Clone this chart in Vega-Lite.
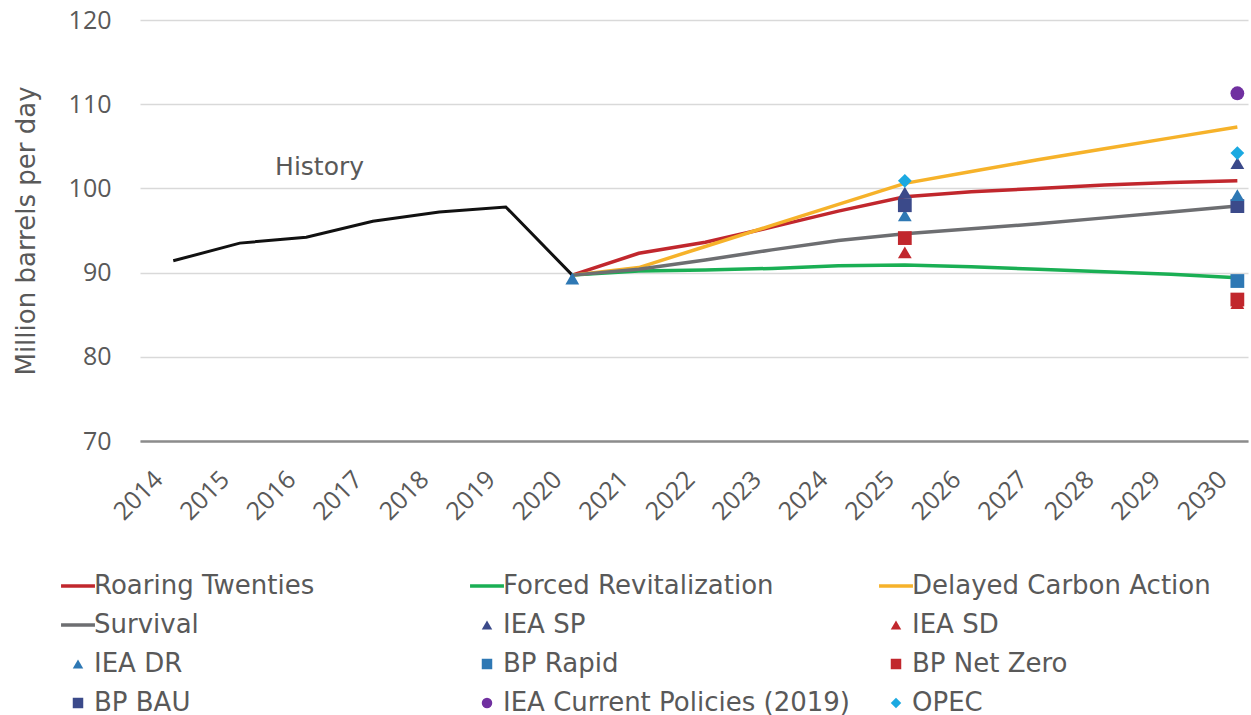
{
  "$schema": "https://vega.github.io/schema/vega-lite/v6.json",
  "width": 1108,
  "height": 421,
  "padding": {"top": 8, "left": 13, "right": 6, "bottom": 0},
  "background": "white",
  "config": {
    "view": {"stroke": null},
    "font": "Open Sans"
  },
  "datasets": {
    "history": [
      {"year": 2014, "value": 91.4},
      {"year": 2015, "value": 93.5},
      {"year": 2016, "value": 94.2},
      {"year": 2017, "value": 96.1},
      {"year": 2018, "value": 97.2},
      {"year": 2019, "value": 97.8},
      {"year": 2020, "value": 89.7}
    ],
    "scen": [
      {"series": "Roaring Twenties", "year": 2020, "value": 89.7},
      {"series": "Roaring Twenties", "year": 2021, "value": 92.3},
      {"series": "Roaring Twenties", "year": 2022, "value": 93.6},
      {"series": "Roaring Twenties", "year": 2023, "value": 95.4},
      {"series": "Roaring Twenties", "year": 2024, "value": 97.3},
      {"series": "Roaring Twenties", "year": 2025, "value": 99.0},
      {"series": "Roaring Twenties", "year": 2026, "value": 99.6},
      {"series": "Roaring Twenties", "year": 2027, "value": 100.0},
      {"series": "Roaring Twenties", "year": 2028, "value": 100.4},
      {"series": "Roaring Twenties", "year": 2029, "value": 100.7},
      {"series": "Roaring Twenties", "year": 2030, "value": 100.9},
      {"series": "Forced Revitalization", "year": 2020, "value": 89.7},
      {"series": "Forced Revitalization", "year": 2021, "value": 90.2},
      {"series": "Forced Revitalization", "year": 2022, "value": 90.3},
      {"series": "Forced Revitalization", "year": 2023, "value": 90.5},
      {"series": "Forced Revitalization", "year": 2024, "value": 90.8},
      {"series": "Forced Revitalization", "year": 2025, "value": 90.9},
      {"series": "Forced Revitalization", "year": 2026, "value": 90.7},
      {"series": "Forced Revitalization", "year": 2027, "value": 90.4},
      {"series": "Forced Revitalization", "year": 2028, "value": 90.1},
      {"series": "Forced Revitalization", "year": 2029, "value": 89.8},
      {"series": "Forced Revitalization", "year": 2030, "value": 89.4},
      {"series": "Delayed Carbon Action", "year": 2020, "value": 89.7},
      {"series": "Delayed Carbon Action", "year": 2021, "value": 90.6},
      {"series": "Delayed Carbon Action", "year": 2022, "value": 93.1},
      {"series": "Delayed Carbon Action", "year": 2023, "value": 95.6},
      {"series": "Delayed Carbon Action", "year": 2024, "value": 98.1},
      {"series": "Delayed Carbon Action", "year": 2025, "value": 100.6},
      {"series": "Delayed Carbon Action", "year": 2026, "value": 102.0},
      {"series": "Delayed Carbon Action", "year": 2027, "value": 103.4},
      {"series": "Delayed Carbon Action", "year": 2028, "value": 104.7},
      {"series": "Delayed Carbon Action", "year": 2029, "value": 106.0},
      {"series": "Delayed Carbon Action", "year": 2030, "value": 107.3},
      {"series": "Survival", "year": 2020, "value": 89.7},
      {"series": "Survival", "year": 2021, "value": 90.4},
      {"series": "Survival", "year": 2022, "value": 91.5},
      {"series": "Survival", "year": 2023, "value": 92.7},
      {"series": "Survival", "year": 2024, "value": 93.8},
      {"series": "Survival", "year": 2025, "value": 94.6},
      {"series": "Survival", "year": 2026, "value": 95.2},
      {"series": "Survival", "year": 2027, "value": 95.8},
      {"series": "Survival", "year": 2028, "value": 96.5},
      {"series": "Survival", "year": 2029, "value": 97.2},
      {"series": "Survival", "year": 2030, "value": 97.9}
    ],
    "markers": [
      {"series": "IEA DR", "year": 2020, "value": 89.3},
      {"series": "IEA SD", "year": 2025, "value": 92.4},
      {"series": "BP Net Zero", "year": 2025, "value": 94.1},
      {"series": "IEA DR", "year": 2025, "value": 96.8},
      {"series": "BP BAU", "year": 2025, "value": 98.0},
      {"series": "IEA SP", "year": 2025, "value": 99.5},
      {"series": "OPEC", "year": 2025, "value": 100.9},
      {"series": "IEA SD", "year": 2030, "value": 86.4},
      {"series": "BP Net Zero", "year": 2030, "value": 86.8},
      {"series": "BP Rapid", "year": 2030, "value": 89.0},
      {"series": "BP BAU", "year": 2030, "value": 97.9},
      {"series": "IEA DR", "year": 2030, "value": 99.2},
      {"series": "IEA SP", "year": 2030, "value": 103.0},
      {"series": "OPEC", "year": 2030, "value": 104.2},
      {"series": "IEA Current Policies (2019)", "year": 2030, "value": 111.3}
    ],
    "notes": [
      {"label": "History", "year": 2016.2, "value": 102.5}
    ]
  },
  "encoding": {
    "x": {
      "field": "year",
      "type": "quantitative",
      "scale": {"domain": [2013.5, 2030.16], "nice": false, "zero": false},
      "axis": {
        "title": null,
        "values": [2014, 2015, 2016, 2017, 2018, 2019, 2020, 2021, 2022, 2023, 2024, 2025, 2026, 2027, 2028, 2029, 2030],
        "format": "d",
        "labelAngle": -45,
        "labelAlign": "right",
        "labelBaseline": "middle",
        "labelFontSize": 25,
        "labelColor": "#595959",
        "labelPadding": 34,
        "labelOffset": -15,
        "grid": false,
        "ticks": false,
        "domainColor": "#8C8C8C",
        "domainWidth": 2.5,
        "labelFlush": false,
        "labelOverlap": false
      }
    },
    "y": {
      "field": "value",
      "type": "quantitative",
      "scale": {"domain": [70, 120], "nice": false, "zero": false},
      "axis": {
        "title": "Million barrels per day",
        "titleFont": "DejaVu Sans",
        "titleFontSize": 26,
        "titleFontWeight": "normal",
        "titleColor": "#595959",
        "titlePadding": 29,
        "values": [70, 80, 90, 100, 110, 120],
        "labelFontSize": 25,
        "labelColor": "#595959",
        "labelPadding": 29,
        "domain": false,
        "ticks": false,
        "grid": true,
        "gridColor": "#D9D9D9",
        "gridWidth": 1.5
      }
    }
  },
  "layer": [
    {
      "data": {"name": "history"},
      "mark": {"type": "line", "color": "#111111", "strokeWidth": 3}
    },
    {
      "data": {"name": "scen"},
      "mark": {"type": "line", "strokeWidth": 3.5},
      "encoding": {
        "color": {
          "field": "series",
          "type": "nominal",
          "scale": {
            "domain": ["Roaring Twenties", "Survival", "IEA DR", "BP BAU", "Forced Revitalization", "IEA SP", "BP Rapid", "IEA Current Policies (2019)", "Delayed Carbon Action", "IEA SD", "BP Net Zero", "OPEC"],
            "range": ["#C1272D", "#6D6E71", "#2E78B4", "#3B4A8A", "#1AAF54", "#3B4A8A", "#2E78B4", "#7030A0", "#F6B22A", "#C1272D", "#C1272D", "#1BA9E1"]
          },
          "legend": {
            "title": null,
            "orient": "none",
            "legendX": -75,
            "legendY": 553,
            "columns": 3,
            "gridAlign": "all",
            "columnPadding": 22,
            "rowPadding": 13,
            "labelFontSize": 26,
            "labelColor": "#595959",
            "labelFont": "DejaVu Sans",
            "labelOffset": 3,
            "labelLimit": 500,
            "symbolSize": 1150,
            "encode": {
              "symbols": {
                "update": {
                  "shape": {"signal": "indexof(['Roaring Twenties','Forced Revitalization','Delayed Carbon Action','Survival'], datum.value) >= 0 ? 'stroke' : (indexof(['IEA SP','IEA SD','IEA DR'], datum.value) >= 0 ? 'triangle-up' : (indexof(['BP Rapid','BP Net Zero','BP BAU'], datum.value) >= 0 ? 'square' : (datum.value == 'OPEC' ? 'diamond' : 'circle')))"},
                  "size": {"signal": "indexof(['Roaring Twenties','Forced Revitalization','Delayed Carbon Action','Survival'], datum.value) >= 0 ? 1150 : 110"},
                  "strokeWidth": {"signal": "indexof(['Roaring Twenties','Forced Revitalization','Delayed Carbon Action','Survival'], datum.value) >= 0 ? 3.5 : 0"},
                  "fill": {"scale": "color", "field": "value"},
                  "stroke": {"scale": "color", "field": "value"},
                  "opacity": {"value": 1}
                }
              }
            }
          }
        },
        "detail": {"field": "series"}
      }
    },
    {
      "data": {"name": "markers"},
      "mark": {"type": "point", "filled": true, "opacity": 1, "size": 190},
      "encoding": {
        "color": {"field": "series", "type": "nominal"},
        "shape": {
          "field": "series",
          "type": "nominal",
          "scale": {
            "domain": ["IEA SP", "IEA SD", "IEA DR", "BP Rapid", "BP Net Zero", "BP BAU", "IEA Current Policies (2019)", "OPEC"],
            "range": ["triangle-up", "triangle-up", "triangle-up", "square", "square", "square", "circle", "diamond"]
          },
          "legend": null
        }
      }
    },
    {
      "data": {"name": "notes"},
      "mark": {"type": "text", "fontSize": 25, "color": "#595959", "font": "DejaVu Sans"},
      "encoding": {"text": {"field": "label"}}
    }
  ]
}
